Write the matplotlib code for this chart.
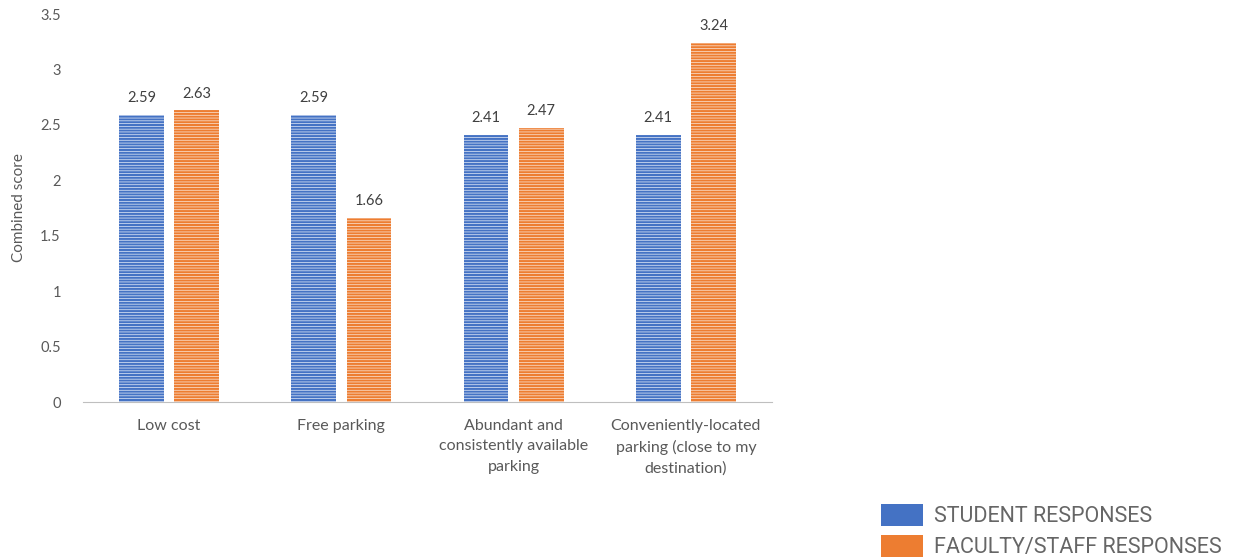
import matplotlib
matplotlib.use("Agg")
import matplotlib.pyplot as plt
from matplotlib.patches import Patch
import numpy as np

categories = ["Low cost", "Free parking",
              "Abundant and\nconsistently available\nparking",
              "Conveniently-located\nparking (close to my\ndestination)"]
student = [2.59, 2.59, 2.41, 2.41]
faculty = [2.63, 1.66, 2.47, 3.24]
series_names = ["STUDENT RESPONSES", "FACULTY/STAFF RESPONSES"]
yticks = [0, 0.5, 1, 1.5, 2, 2.5, 3, 3.5]
ytick_labels = ["0", "0.5", "1", "1.5", "2", "2.5", "3", "3.5"]

blue = "#4472C4"
orange = "#ED7D31"
txt = "#595959"

plt.rcParams["font.family"] = ["Lato", "DejaVu Sans"]
plt.rcParams["hatch.linewidth"] = 0.5

fig = plt.figure(figsize=(12.46, 5.58), dpi=100)
ax = fig.add_axes([83/1246, 1-402/558, (772-83)/1246, (402-14)/558])

x = np.arange(len(categories))
w = 0.26
off = 0.16
b1 = ax.bar(x - off, student, w, color=blue, edgecolor="#E8EEF9", linewidth=0,
            hatch="------")
b2 = ax.bar(x + off, faculty, w, color=orange, edgecolor="#FBE9DD", linewidth=0,
            hatch="------")
for bars, vals in ((b1, student), (b2, faculty)):
    for r, v in zip(bars, vals):
        ax.annotate(f"{v:.2f}", (r.get_x() + r.get_width()/2, v),
                    xytext=(0, 7), textcoords="offset points",
                    ha="center", va="bottom", fontsize=10.5, color="#404040")

ax.set_xlim(-0.5, len(categories) - 0.5)
ax.set_ylim(0, 3.5)
ax.set_yticks(yticks)
ax.set_yticklabels(ytick_labels)
ax.set_xticks(x)
ax.set_xticklabels(categories, linespacing=1.6, fontsize=11.5)
ax.tick_params(axis="y", length=0, labelsize=10.5, colors=txt, pad=16)
ax.tick_params(axis="x", length=0, colors=txt, pad=12)
for s in ("top", "right", "left"):
    ax.spines[s].set_visible(False)
ax.spines["bottom"].set_color("#BFBFBF")
ax.set_ylabel("Combined score", fontsize=11, color=txt, labelpad=10)

handles = [Patch(facecolor=blue), Patch(facecolor=orange)]
leg = fig.legend(handles, series_names, loc="lower left",
                 bbox_to_anchor=(872/1246, -0.016), frameon=False,
                 prop={"family": ["Roboto", "DejaVu Sans"], "size": 15.5},
                 handlelength=1.95, handleheight=1.15, labelspacing=0.38,
                 handletextpad=0.55, borderaxespad=0)
for t in leg.get_texts():
    t.set_color("#666666")

fig.savefig("out.png", dpi=100)
